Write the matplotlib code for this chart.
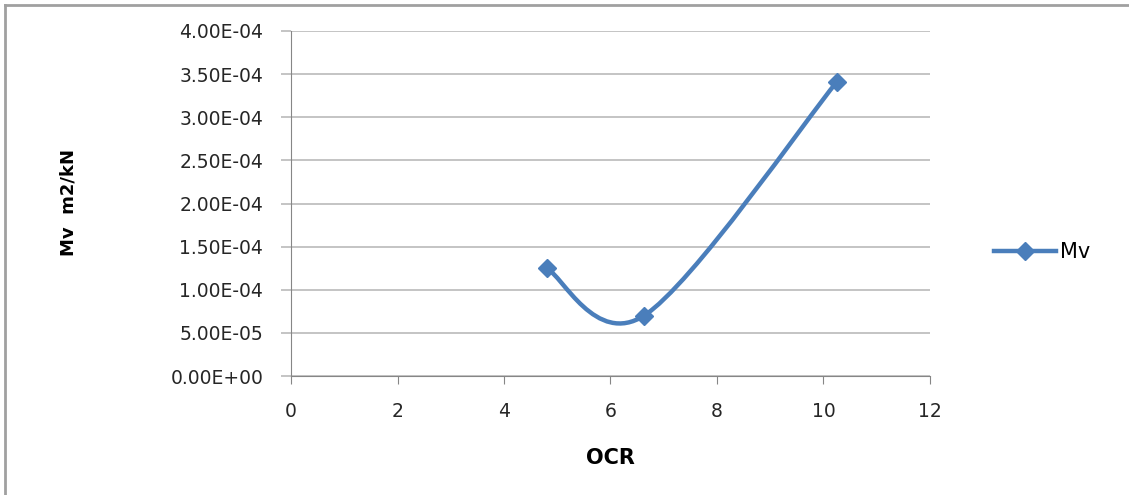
import numpy as np
import matplotlib.pyplot as plt
from matplotlib.path import Path
from matplotlib.patches import PathPatch
from matplotlib.lines import Line2D

# data
ocr = [4.8, 6.63, 10.25]
mv = [1.25e-4, 7.0e-5, 3.41e-4]
x_ticks = [0, 2, 4, 6, 8, 10, 12]
y_ticks = [0, 5e-5, 1e-4, 1.5e-4, 2e-4, 2.5e-4, 3e-4, 3.5e-4, 4e-4]

BLUE = '#4a7ebb'
GRID = '#bfbfbf'


def smooth_path(xs, ys):
    """Excel-style smoothed line: cubic bezier through the points (catmull-rom controls)."""
    pts = np.column_stack([xs, ys])
    n = len(pts)
    verts = [pts[0]]
    codes = [Path.MOVETO]
    for i in range(n - 1):
        p_prev = pts[max(i - 1, 0)]
        p0 = pts[i]
        p1 = pts[i + 1]
        p_next = pts[min(i + 2, n - 1)]
        c1 = p0 + (p1 - p_prev) / 6.0
        c2 = p1 - (p_next - p0) / 6.0
        verts += [c1, c2, p1]
        codes += [Path.CURVE4] * 3
    return Path(verts, codes)


fig = plt.figure(figsize=(11.29, 4.95), dpi=100)
ax = fig.add_axes([291 / 1129, 119 / 495, 639 / 1129, 345 / 495])

ax.add_patch(PathPatch(smooth_path(ocr, mv), fill=False, edgecolor=BLUE, lw=3.2,
                       capstyle='round', zorder=3))
ax.plot(ocr, mv, linestyle='none', marker='D', ms=9, color=BLUE, zorder=4)

ax.set_xlim(0, 12)
ax.set_ylim(0, 4e-4)
ax.set_xticks(x_ticks)
ax.set_yticks(y_ticks)
ax.set_xticklabels([str(t) for t in x_ticks])
ax.set_yticklabels(['%.2E' % t for t in y_ticks])
ax.yaxis.grid(True, color=GRID, lw=1.3)
ax.set_axisbelow(True)
for s in ['top', 'right']:
    ax.spines[s].set_visible(False)
ax.spines['left'].set_color('#868686')
ax.spines['bottom'].set_color('#868686')
ax.tick_params(axis='y', length=7, color=GRID, width=1.3, labelsize=13.5, labelcolor='#262626', pad=13)
ax.tick_params(axis='x', length=6, color='#868686', labelsize=13.5, labelcolor='#262626', pad=13)

ax.set_xlabel('OCR', fontweight='bold', fontsize=15)
ax.set_ylabel('Mv  m2/kN', fontweight='bold', fontsize=13, family='Liberation Sans Narrow')
ax.xaxis.set_label_coords((610 - 291) / 639, (376 - 458) / 345)
ax.yaxis.set_label_coords((68 - 291) / 639, (376 - 203) / 345)
ax.xaxis.label.set_va('center')
ax.yaxis.label.set_va('center')

handle = Line2D([], [], color=BLUE, lw=3.2, marker='D', ms=9)
fig.legend([handle], ['Mv'], loc='center left', bbox_to_anchor=(975 / 1129, 1 - 252 / 495),
           frameon=False, fontsize=15, handlelength=3.0, handletextpad=0.2)

# chart border
fig.add_artist(Line2D([5 / 1129, 5 / 1129], [0, 1 - 5 / 495], color='#a0a0a0', lw=2))
fig.add_artist(Line2D([5 / 1129, 1], [1 - 5 / 495, 1 - 5 / 495], color='#a0a0a0', lw=2))

fig.savefig('out.png', dpi=100)
